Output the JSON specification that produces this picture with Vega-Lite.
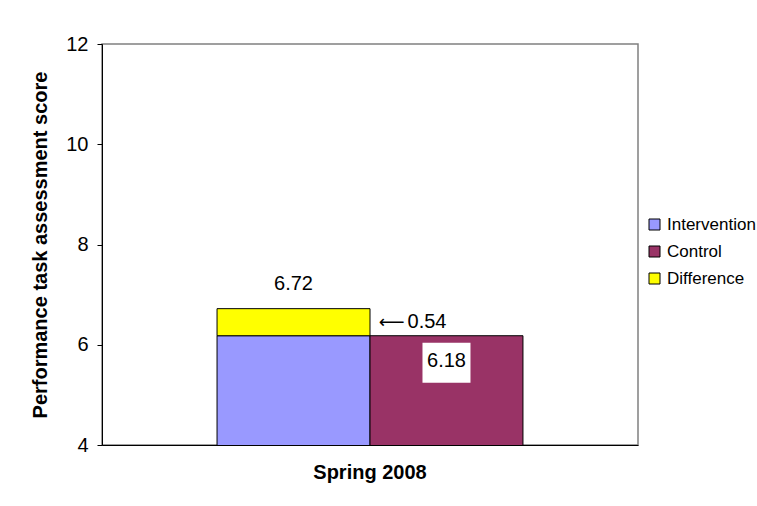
{
  "$schema": "https://vega.github.io/schema/vega-lite/v6.json",
  "autosize": "none",
  "width": 536,
  "height": 401,
  "padding": {"left": 102, "top": 44, "right": 119, "bottom": 61},
  "background": "white",
  "config": {
    "font": "Liberation Sans",
    "view": {"stroke": "#808080", "strokeWidth": 1.5}
  },
  "datasets": {
    "bars": [
      {"period": "Spring 2008", "group": "Intervention", "series": "Intervention", "score": 6.18, "order": 1},
      {"period": "Spring 2008", "group": "Intervention", "series": "Difference", "score": 0.54, "order": 2},
      {"period": "Spring 2008", "group": "Control", "series": "Control", "score": 6.18, "order": 1}
    ],
    "labels": [
      {"period": "Spring 2008", "group": "Intervention", "pos": 6.72, "text": "6.72"}
    ],
    "arrow": [
      {"period": "Spring 2008", "group": "Control", "pos": 6.45, "text": "0.54", "arrow": "⟵"}
    ],
    "box": [
      {"period": "Spring 2008", "group": "Control", "lo": 5.24, "hi": 6.04, "mid": 5.68, "text": "6.18"}
    ]
  },
  "encoding": {
    "x": {
      "field": "period", "type": "nominal",
      "scale": {"paddingInner": 0, "paddingOuter": 0.376},
      "axis": {"title": null, "labelAngle": 0, "labelFontSize": 20, "labelFontWeight": "bold", "labelColor": "black", "labelPadding": 17, "ticks": false, "domainColor": "black", "domainWidth": 1}
    },
    "xOffset": {
      "field": "group", "type": "nominal", "sort": ["Intervention", "Control"],
      "scale": {"paddingInner": 0, "paddingOuter": 0}
    }
  },
  "layer": [
    {
      "data": {"name": "bars"},
      "mark": {"type": "bar", "clip": true, "stroke": "black", "strokeWidth": 1},
      "encoding": {
        "y": {
          "field": "score", "type": "quantitative", "stack": "zero",
          "scale": {"domain": [4, 12], "nice": false, "zero": false},
          "axis": {"values": [4, 6, 8, 10, 12], "grid": false, "domainColor": "black", "tickColor": "black", "tickSize": 5, "labelFontSize": 20, "labelColor": "black", "labelPadding": 9, "title": "Performance task assessment score", "titleFontSize": 20, "titleFontWeight": "bold", "titleColor": "black", "titlePadding": 15}
        },
        "color": {
          "field": "series", "type": "nominal",
          "scale": {"domain": ["Intervention", "Control", "Difference"], "range": ["#9999FF", "#993366", "#FFFF00"]},
          "legend": {"title": null, "orient": "none", "legendX": 544, "legendY": 172, "labelFontSize": 17, "labelColor": "black", "symbolType": "square", "symbolSize": 121, "symbolStrokeColor": "black", "symbolStrokeWidth": 1, "rowPadding": 9, "labelOffset": 4}
        },
        "order": {"field": "order", "type": "quantitative"}
      }
    },
    {
      "data": {"name": "box"},
      "mark": {"type": "bar", "width": 48, "fill": "white", "stroke": null},
      "encoding": {
        "y": {"field": "lo", "type": "quantitative"},
        "y2": {"field": "hi"}
      }
    },
    {
      "data": {"name": "box"},
      "mark": {"type": "text", "fontSize": 20, "align": "center", "baseline": "middle", "color": "black"},
      "encoding": {
        "y": {"field": "mid", "type": "quantitative"},
        "text": {"field": "text"}
      }
    },
    {
      "data": {"name": "labels"},
      "mark": {"type": "text", "fontSize": 20, "align": "center", "baseline": "alphabetic", "dy": -19, "color": "black"},
      "encoding": {
        "y": {"field": "pos", "type": "quantitative"},
        "text": {"field": "text"}
      }
    },
    {
      "data": {"name": "arrow"},
      "mark": {"type": "text", "fontSize": 20, "align": "right", "baseline": "middle", "color": "black"},
      "encoding": {
        "y": {"field": "pos", "type": "quantitative"},
        "text": {"field": "text"}
      }
    },
    {
      "data": {"name": "arrow"},
      "mark": {"type": "text", "font": "DejaVu Sans", "fontSize": 18, "align": "right", "baseline": "middle", "dx": -42, "dy": 1, "color": "black"},
      "encoding": {
        "y": {"field": "pos", "type": "quantitative"},
        "text": {"field": "arrow"}
      }
    }
  ]
}
